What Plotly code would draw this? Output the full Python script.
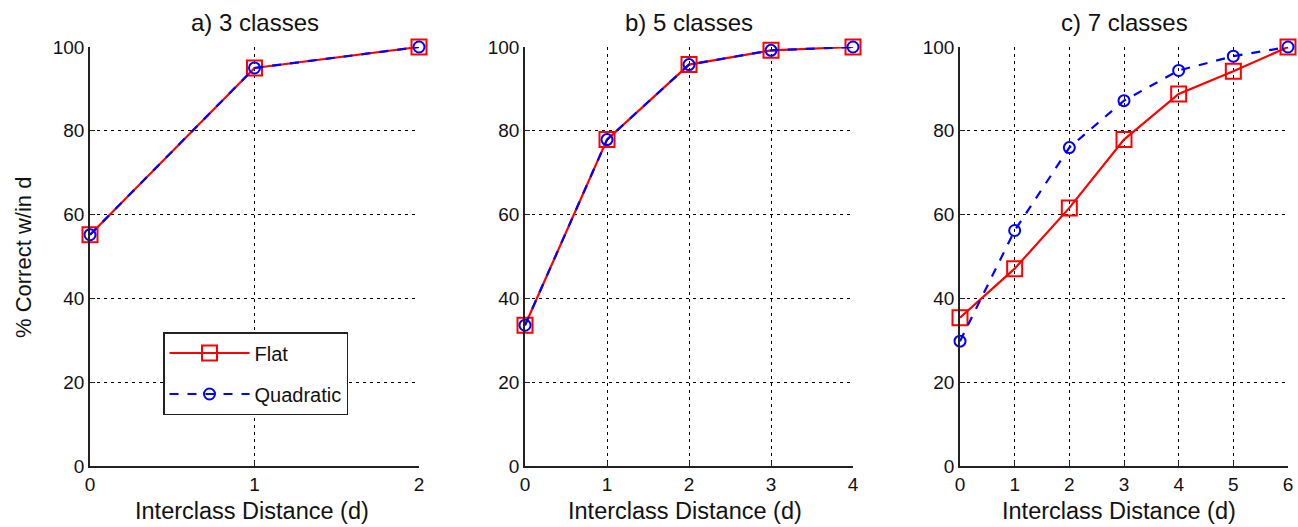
import plotly.graph_objects as go

titles = ["a) 3 classes", "b) 5 classes", "c) 7 classes"]
d_a = [0, 1, 2]
flat_a = [55.2, 95.0, 100.0]
quad_a = [55.2, 95.0, 100.0]
d_b = [0, 1, 2, 3, 4]
flat_b = [33.6, 77.9, 95.8, 99.2, 100.0]
quad_b = [33.6, 77.9, 95.8, 99.2, 100.0]
d_c = [0, 1, 2, 3, 4, 5, 6]
flat_c = [35.4, 47.1, 61.6, 77.9, 88.8, 94.2, 100.0]
quad_c = [29.8, 56.2, 76.0, 87.2, 94.4, 97.8, 100.0]
y_ticks = [0, 20, 40, 60, 80, 100]

W, H = 1298, 527
font = "Liberation Sans, Arial, sans-serif"
ydom = [1 - 466 / H, 1 - 47 / H]
xdoms = [[90 / W, 419 / W], [525 / W, 853 / W], [960 / W, 1288 / W]]
xlabel_cx = [252 / W, 685 / W, 1119 / W]
datasets = [(d_a, flat_a, quad_a), (d_b, flat_b, quad_b), (d_c, flat_c, quad_c)]

fig = go.Figure()
for i, (d, fl, qu) in enumerate(datasets):
    sfx = "" if i == 0 else str(i + 1)
    fig.add_trace(go.Scatter(
        x=d, y=fl, mode="lines+markers", name="Flat", legendgroup="flat",
        xaxis="x" + sfx, yaxis="y" + sfx, showlegend=(i == 0),
        line=dict(color="#ff0000", width=2.2),
        marker=dict(symbol="square-open", size=15, color="#ff0000", line=dict(width=2)),
        cliponaxis=False))
    fig.add_trace(go.Scatter(
        x=d, y=qu, mode="lines+markers", name="Quadratic", legendgroup="quad",
        xaxis="x" + sfx, yaxis="y" + sfx, showlegend=(i == 0),
        line=dict(color="#0000ff", width=2.2, dash="dash"),
        marker=dict(symbol="circle-open", size=11, color="#0000ff", line=dict(width=2)),
        cliponaxis=False))
    axcommon = dict(showline=True, linecolor="#222", linewidth=1.5, automargin=False,
                    showgrid=True, gridcolor="black", gridwidth=1, griddash="3px,4px",
                    zeroline=False, ticks="inside", ticklen=5, tickcolor="#222",
                    tickfont=dict(family=font, size=19, color="#111"))
    fig.layout["xaxis" + sfx] = dict(domain=xdoms[i], range=[0, d[-1]], tickvals=d,
                                      anchor="y" + sfx, **axcommon)
    fig.layout["yaxis" + sfx] = dict(domain=ydom, range=[0, 100], tickvals=y_ticks,
                                      anchor="x" + sfx, **axcommon)
    cx = (xdoms[i][0] + xdoms[i][1]) / 2
    fig.add_annotation(text=titles[i], x=cx, y=1 - 22 / H, xref="paper", yref="paper",
                       xanchor="center", yanchor="middle",
                       showarrow=False, font=dict(family=font, size=24, color="#111"))
    fig.add_annotation(text="Interclass Distance (d)", x=xlabel_cx[i], y=1 - 511 / H,
                       xref="paper", yref="paper", xanchor="center", yanchor="middle",
                       showarrow=False, font=dict(family=font, size=23.5, color="#111"))

fig.add_annotation(text="% Correct w/in d", x=24 / W, y=1 - 258 / H,
                   xref="paper", yref="paper", xanchor="center", yanchor="middle",
                   showarrow=False, textangle=-90,
                   font=dict(family=font, size=22, color="#111"))

fig.update_layout(
    width=W, height=H, margin=dict(l=0, r=0, t=0, b=0),
    paper_bgcolor="white", plot_bgcolor="white",
    showlegend=True,
    legend=dict(x=163 / W, y=1 - 332 / H, xanchor="left", yanchor="top",
                bordercolor="#222", borderwidth=1.5, bgcolor="white",
                font=dict(family=font, size=20, color="#111"),
                itemwidth=80, tracegroupgap=12,
                traceorder="grouped"),
)
fig.write_html("out.html", config={"displayModeBar": False},
               post_script="document.body.style.margin='0';")
